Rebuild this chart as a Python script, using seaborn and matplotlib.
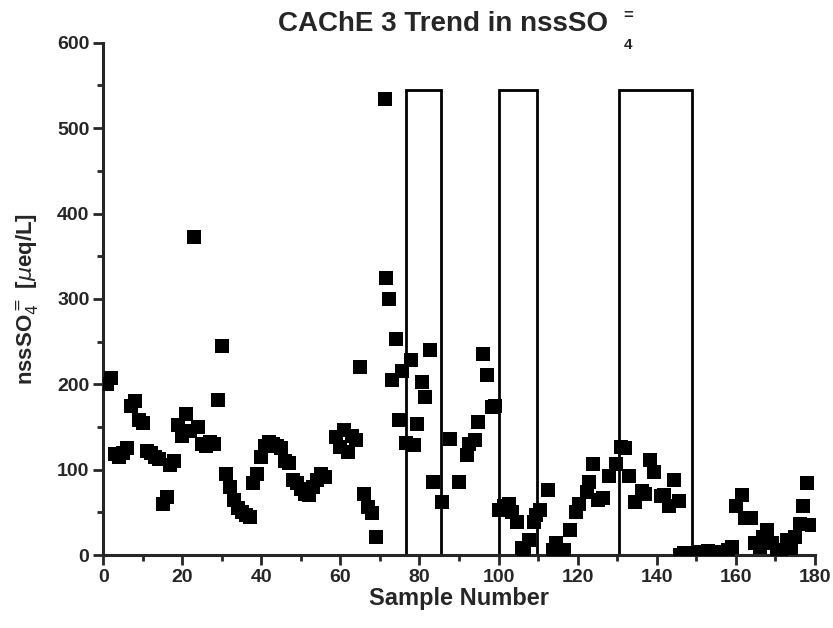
import matplotlib
matplotlib.use("Agg")
import matplotlib.pyplot as plt
from matplotlib.patches import Rectangle
import numpy as np
import pandas as pd
import seaborn as sns

# sample numbers and nssSO4= values
sample = [1, 2, 3, 4, 5, 6, 7, 8, 9, 10,
          11, 12, 13, 14, 15, 16, 17, 18, 19, 20,
          21, 22, 23, 24, 25, 26, 27, 28, 29, 30,
          31, 32, 33, 34, 35, 36, 37, 38, 39, 40,
          41, 42, 43, 44, 45, 46, 47, 48, 49, 50,
          51, 52, 53, 54, 55, 56, 59, 60, 61, 62,
          63, 64, 65, 66, 67, 68, 69,
          71.3, 71.6, 72.4, 73, 74, 74.7, 75.7, 76.6, 77.9, 78.6,
          79.5, 80.6, 81.4, 82.7, 83.5, 85.7, 87.8, 89.9, 92, 92.6,
          94, 94.8, 96.2, 97, 98.3, 99.2,
          100.2, 101.5, 102.6, 103.4, 104.6, 105.9, 106.5, 107.6, 108.9, 109.6,
          110.5, 112.5, 113.9, 114.6, 115.6, 116.6, 118, 119.5, 120.3, 122.4,
          122.9, 124, 125.3, 126.5, 128, 129.7, 130.9, 132, 133, 134.5,
          136.2, 137, 138.4, 139.3, 141, 142, 143.2, 144.3, 145.6,
          146, 147, 148, 149, 150, 151, 152, 153, 154, 155,
          156, 157, 158, 159,
          160, 161.5, 162.3, 164, 165, 166.2, 167, 168, 169.3, 170.5,
          171.5, 173, 174, 175, 176.4, 177, 178, 179.3]
nss_so4 = [200, 208, 118, 115, 120, 125, 175, 180, 158, 155,
           122, 120, 115, 112, 60, 68, 105, 110, 152, 140,
           165, 145, 372, 150, 130, 128, 133, 130, 182, 245,
           95, 80, 65, 55, 50, 47, 45, 85, 95, 115,
           128, 133, 130, 128, 125, 110, 108, 88, 85, 78,
           72, 70, 80, 88, 95, 92, 138, 127, 146, 121,
           140, 135, 220, 72, 56, 49, 21,
           534, 324, 300, 205, 253, 158, 216, 131, 229, 129,
           154, 203, 185, 240, 86, 62, 136, 86, 117, 130,
           135, 156, 236, 211, 173, 175,
           53, 57, 60, 51, 39, 8, 4, 18, 39, 47,
           53, 76, 6, 14, 4, 6, 29, 50, 60, 74,
           86, 107, 65, 67, 93, 107, 127, 126, 93, 62,
           75, 72, 111, 97, 69, 70, 57, 88, 63,
           0, 2, 1, 3, 0, 4, 2, 5, 3, 1,
           4, 2, 6, 10,
           58, 70, 43, 43, 14, 10, 21, 29, 14, 4,
           6, 18, 8, 21, 36, 57, 84, 35]

# open rectangles marking sampling periods
box_start = [76.5, 100.1, 130.5]
box_end = [85.5, 109.8, 149.0]
box_top = 545

df = pd.DataFrame({"Sample Number": sample, "nssSO4": nss_so4})

sns.set_style("ticks")
plt.rcParams["font.family"] = ["Liberation Sans", "DejaVu Sans"]

fig = plt.figure(figsize=(8.33, 6.28), dpi=100)
ax = fig.add_axes([0.124, 0.116, 0.854, 0.816])

sns.scatterplot(data=df, x="Sample Number", y="nssSO4", marker="s",
                color="black", s=92, linewidth=0, ax=ax, zorder=3)

for x0, x1 in zip(box_start, box_end):
    ax.add_patch(Rectangle((x0, 0), x1 - x0, box_top, fill=False,
                           edgecolor="black", linewidth=2, zorder=2))

ax.set_xlim(0, 180)
ax.set_ylim(0, 600)
ax.set_xticks(np.arange(0, 181, 20))
ax.set_xticks(np.arange(0, 181, 10), minor=True)
ax.set_yticks(np.arange(0, 601, 100))
ax.set_yticks(np.arange(0, 601, 50), minor=True)
ax.tick_params(which="major", length=7, width=2, labelsize=14, pad=3)
ax.tick_params(which="minor", length=4, width=2)
for lab in ax.get_xticklabels() + ax.get_yticklabels():
    lab.set_fontweight("bold")

for side in ["left", "bottom"]:
    ax.spines[side].set_linewidth(2.2)
sns.despine(ax=ax)

ax.set_xlabel("Sample Number", fontsize=17, fontweight="bold", labelpad=1)
ax.set_ylabel(r"nssSO$_4^=$ [$\mu$eq/L]", fontsize=16, fontweight="bold", labelpad=12)

fig.text(0.532, 0.962, "CAChE 3 Trend in nssSO", ha="center", va="center",
         fontsize=20, fontweight="bold")
fig.text(0.754, 0.975, "=", ha="center", va="center", fontsize=12, fontweight="bold")
fig.text(0.754, 0.928, "4", ha="center", va="center", fontsize=11, fontweight="bold")

fig.savefig("out.png", dpi=100)
